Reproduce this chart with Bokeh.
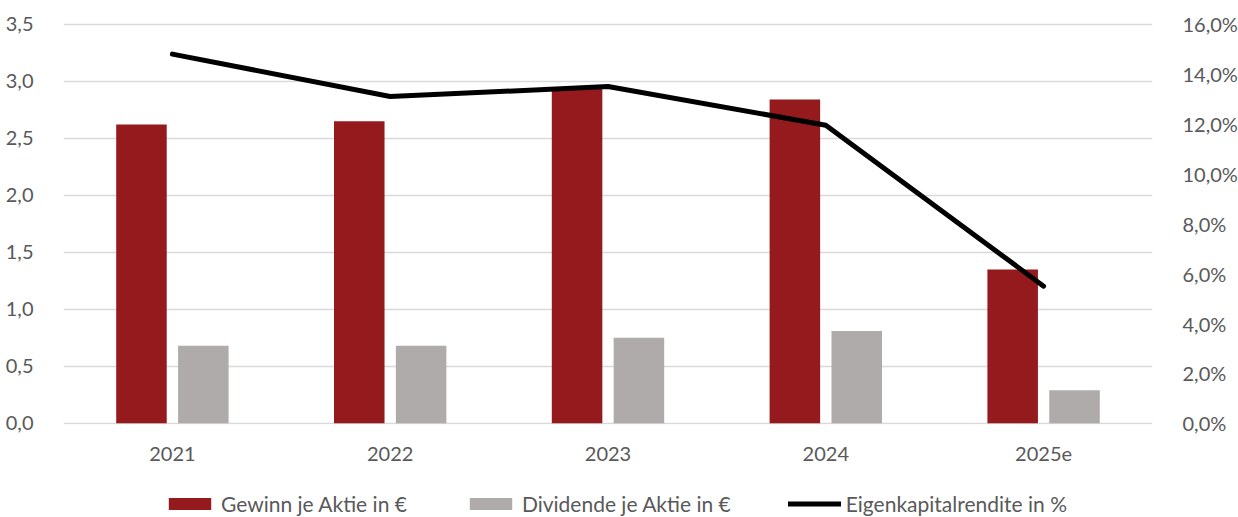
from bokeh.plotting import figure
from bokeh.layouts import column
from bokeh.models import (ColumnDataSource, Range1d, LinearAxis, FixedTicker,
                          CustomJSTickFormatter, Legend, LegendItem, FactorRange)
from bokeh.transform import dodge
from bokeh.embed import file_html
from bokeh.resources import INLINE

# ---- data ----
years = ["2021", "2022", "2023", "2024", "2025e"]
gewinn = [2.62, 2.65, 2.94, 2.84, 1.35]
dividende = [0.68, 0.68, 0.75, 0.81, 0.29]
ekr = [14.8, 13.1, 13.5, 11.95, 5.5]
left_ticks = [0, 0.5, 1.0, 1.5, 2.0, 2.5, 3.0, 3.5]
right_ticks = [0, 2, 4, 6, 8, 10, 12, 14, 16]
series_names = ["Gewinn je Aktie in €", "Dividende je Aktie in €", "Eigenkapitalrendite in %"]

FONT = "Lato"
TXT = "#595959"
RED = "#941A1D"
GREY = "#AFABAB"
GRID = "#D9D9D9"

src = ColumnDataSource(dict(years=years, gewinn=gewinn, dividende=dividende, ekr=ekr))

L0, L1 = -0.01, 3.62
scale = right_ticks[-1] / left_ticks[-1]

p = figure(frame_width=1089, frame_height=414, x_range=FactorRange(*years, range_padding=0),
           y_range=Range1d(L0, L1), output_backend="svg", toolbar_location=None,
           min_border_left=63, min_border_right=72, min_border_top=10, min_border_bottom=44)
p.outline_line_color = None
p.extra_y_ranges = {"pct": Range1d(L0 * scale, L1 * scale)}

# grid
p.xgrid.grid_line_color = None
p.ygrid.grid_line_color = GRID
p.ygrid.grid_line_width = 1.5
p.ygrid.ticker = FixedTicker(ticks=left_ticks)

r1 = p.vbar(x=dodge("years", -0.142, range=p.x_range), top="gewinn", width=0.232,
            source=src, fill_color=RED, line_color=None)
r2 = p.vbar(x=dodge("years", 0.142, range=p.x_range), top="dividende", width=0.232,
            source=src, fill_color=GREY, line_color=None)
r3 = p.line(x="years", y="ekr", source=src, y_range_name="pct", line_color="black",
            line_width=5, line_cap="round", line_join="round")

# left axis
ya = p.yaxis[0]
ya.ticker = FixedTicker(ticks=left_ticks)
ya.formatter = CustomJSTickFormatter(code="return tick.toFixed(1).replace('.', ',');")

# right axis
ra = LinearAxis(y_range_name="pct", ticker=FixedTicker(ticks=right_ticks),
                formatter=CustomJSTickFormatter(code="return tick.toFixed(1).replace('.', ',') + '%';"))
p.add_layout(ra, "right")

for ax in [ya, ra, p.xaxis[0]]:
    ax.axis_line_color = None
    ax.major_tick_line_color = None
    ax.minor_tick_line_color = None
    ax.major_label_text_font = FONT
    ax.major_label_text_font_size = "20px"
    ax.major_label_text_color = TXT
ya.major_label_standoff = 24
ra.major_label_standoff = 24
p.xaxis[0].major_label_standoff = 16

# ---- legend strip: same data, drawn outside the strip's visible range ----
lf = figure(width=1224, height=48, x_range=FactorRange(*years), y_range=Range1d(1000, 1001),
            output_backend="svg", toolbar_location=None, min_border=0,
            x_axis_location=None, y_axis_location=None)
lf.outline_line_color = None
lf.grid.visible = False
g1 = lf.vbar(x="years", top="gewinn", width=0.2, source=src, fill_color=RED, line_color=None)
g2 = lf.vbar(x="years", top="dividende", width=0.2, source=src, fill_color=GREY, line_color=None)
g3 = lf.line(x="years", y="ekr", source=src, line_color="black", line_width=5, line_cap="round")

legend = Legend(items=[LegendItem(label=series_names[0], renderers=[g1]),
                       LegendItem(label=series_names[1], renderers=[g2]),
                       LegendItem(label=series_names[2], renderers=[g3])],
                orientation="horizontal", location=(100, 0),
                label_text_font=FONT, label_text_font_size="21px", label_text_color=TXT,
                glyph_width=53, glyph_height=15, label_standoff=5, spacing=57,
                border_line_color=None, background_fill_alpha=0, padding=2, margin=0)
lf.add_layout(legend, "center")

layout = column(p, lf, spacing=0)
open("out.html", "w").write(file_html(layout, INLINE))
